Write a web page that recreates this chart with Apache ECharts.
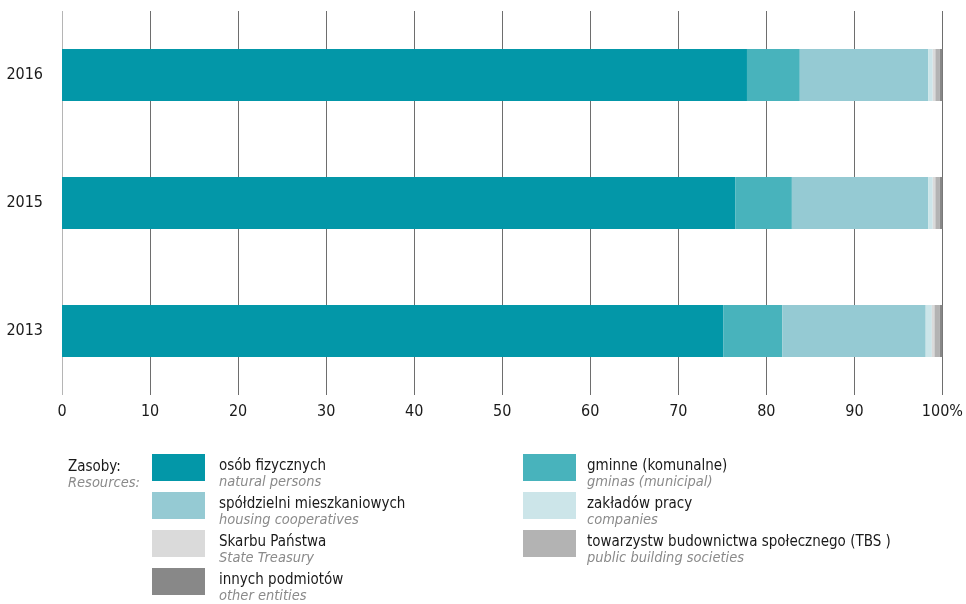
<!DOCTYPE html>
<html>
<head>
<meta charset="utf-8">
<style>
  html, body { margin: 0; padding: 0; background: #ffffff; }
  #chart { width: 966px; height: 604px; }
</style>
<script src="https://cdn.jsdelivr.net/npm/echarts@6/dist/echarts.min.js"></script>
</head>
<body>
<div id="chart"></div>
<script>
// Housing stock by ownership, share of dwellings (%)
const years = ['2013', '2015', '2016'];

const seriesNames = [
  'osób fizycznych',
  'gminne (komunalne)',
  'spółdzielni mieszkaniowych',
  'zakładów pracy',
  'Skarbu Państwa',
  'towarzystw budownictwa społecznego (TBS )',
  'innych podmiotów'
];
const seriesNamesEn = [
  'natural persons',
  'gminas (municipal)',
  'housing cooperatives',
  'companies',
  'State Treasury',
  'public building societies',
  'other entities'
];
const seriesColors = ['#0397a8', '#48b3bc', '#95cad3', '#cce5e9', '#dadada', '#b3b3b3', '#888888'];

const osobFizycznych = [75.1, 76.5, 77.8];
const gminne = [6.7, 6.4, 6.0];
const spoldzielni = [16.3, 15.5, 14.6];
const zakladowPracy = [0.7, 0.5, 0.5];
const skarbuPanstwa = [0.3, 0.3, 0.3];
const tbs = [0.6, 0.5, 0.5];
const innychPodmiotow = [0.3, 0.3, 0.3];

const xTicks = [0, 10, 20, 30, 40, 50, 60, 70, 80, 90, 100];

const seriesValues = [osobFizycznych, gminne, spoldzielni, zakladowPracy, skarbuPanstwa, tbs, innychPodmiotow];

const FONT = '"DejaVu Sans Condensed", "Liberation Sans Narrow", sans-serif';

const chart = echarts.init(document.getElementById('chart'), null, { renderer: 'canvas' });

const legendRich = {
  pl: { fontFamily: FONT, fontSize: 15, color: '#1a1a1a', lineHeight: 16 },
  en: { fontFamily: FONT, fontSize: 14.5, fontStyle: 'italic', color: '#8a8a8a', lineHeight: 16 }
};
function legendFormatter(name) {
  const i = seriesNames.indexOf(name);
  return '{pl|' + name + '}\n{en|' + seriesNamesEn[i] + '}';
}
function makeLegend(names, left, padLeft) {
  return {
    orient: 'vertical',
    left: left,
    top: 454,
    padding: 0,
    itemWidth: 53,
    itemHeight: 27,
    itemGap: 2,
    icon: 'rect',
    selectedMode: false,
    data: names,
    formatter: legendFormatter,
    textStyle: { padding: [14, 0, 0, padLeft], rich: legendRich }
  };
}

const gridLineColors = xTicks.map((v, i) => (i === 0 ? '#b5b5b5' : '#6e6e6e'));

chart.setOption({
  animation: false,
  backgroundColor: '#ffffff',
  title: {
    left: 68,
    top: 459,
    padding: 0,
    text: '{a|Zasoby:}\n{b|Resources:}',
    textStyle: {
      fontWeight: 'normal',
      rich: {
        a: { fontFamily: FONT, fontSize: 15, fontWeight: 'normal', color: '#1a1a1a', lineHeight: 16 },
        b: { fontFamily: FONT, fontSize: 14.5, fontWeight: 'normal', fontStyle: 'italic', color: '#8a8a8a', lineHeight: 16 }
      }
    }
  },
  legend: [
    makeLegend([seriesNames[0], seriesNames[2], seriesNames[4], seriesNames[6]], 152, 9),
    makeLegend([seriesNames[1], seriesNames[3], seriesNames[5]], 523, 6)
  ],
  grid: { left: 62, right: 20, top: 11, bottom: 209, containLabel: false },
  xAxis: {
    type: 'value',
    min: 0,
    max: 100,
    interval: 10,
    axisLine: { show: false },
    axisTick: { show: false },
    splitLine: { show: true, lineStyle: { color: gridLineColors, width: 1 } },
    axisLabel: {
      margin: 9,
      fontFamily: FONT,
      fontSize: 16,
      color: '#1a1a1a',
      formatter: v => (v === 100 ? '100%' : String(v))
    }
  },
  yAxis: {
    type: 'category',
    data: years,
    axisLine: { show: false },
    axisTick: { show: false },
    splitLine: { show: false },
    axisLabel: { margin: 19, fontFamily: FONT, fontSize: 16, color: '#1a1a1a' }
  },
  series: seriesNames.map((name, i) => ({
    name: name,
    type: 'bar',
    stack: 'total',
    barWidth: 52,
    itemStyle: { color: seriesColors[i] },
    emphasis: { disabled: true },
    data: seriesValues[i]
  }))
});
</script>
</body>
</html>
